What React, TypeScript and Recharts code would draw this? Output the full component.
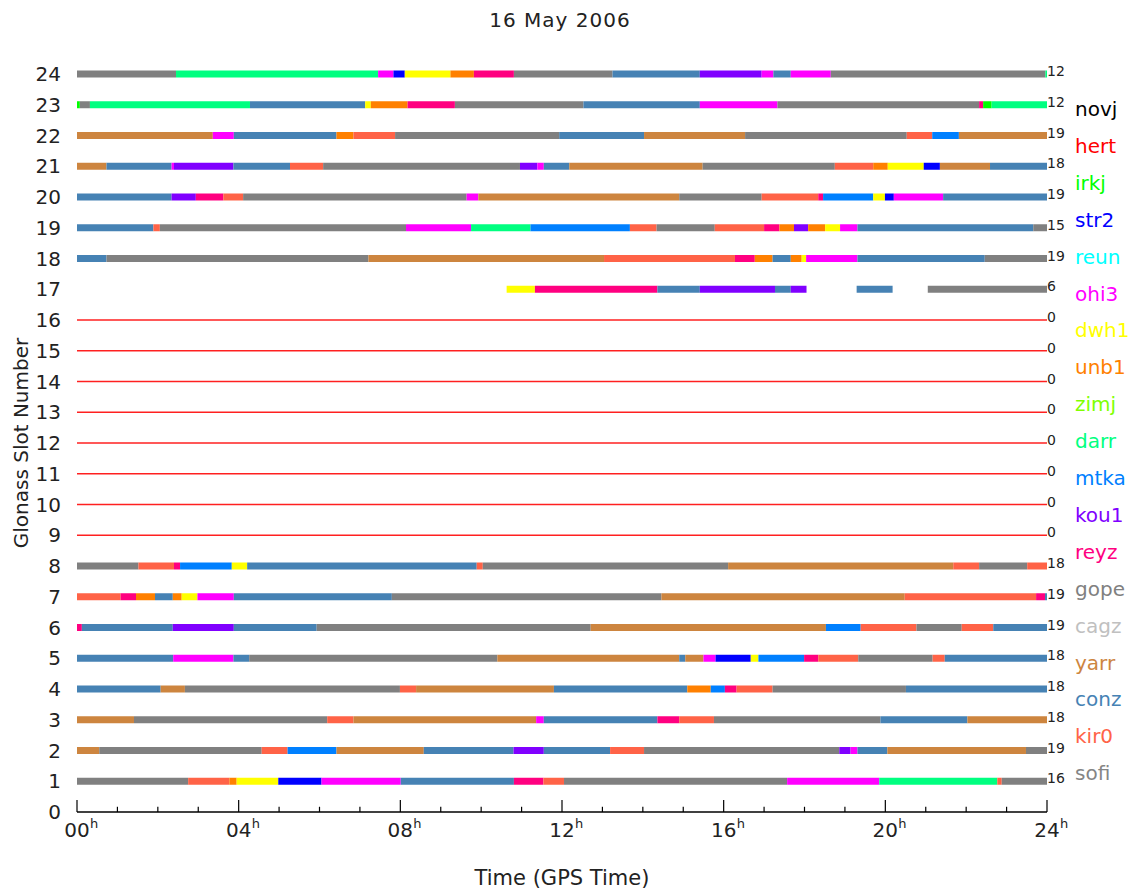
import React from 'react';
import { ComposedChart, XAxis, YAxis, ReferenceLine, ReferenceDot } from 'recharts';

type Seg = [number, number, string];

const FONT = '"DejaVu Sans", "Liberation Sans", sans-serif';

const chartTitle = '16 May 2006';
const xTitle = 'Time (GPS Time)';
const yTitle = 'Glonass Slot Number';

const stations = ['novj', 'hert', 'irkj', 'str2', 'reun', 'ohi3', 'dwh1', 'unb1', 'zimj', 'darr', 'mtka', 'kou1', 'reyz', 'gope', 'cagz', 'yarr', 'conz', 'kir0', 'sofi'];
const stationColors = ['#000000', '#ff0000', '#00ff00', '#0000ff', '#00ffff', '#ff00ff', '#ffff00', '#ff8000', '#80ff00', '#00ff80', '#0080ff', '#8000ff', '#ff0080', '#808080', '#c0c0c0', '#cd853f', '#4682b4', '#ff6347', '#858585'];

const slotTicks = Array.from({ length: 25 }, (_, i) => i);
const hourTicks = [0, 4, 8, 12, 16, 20, 24];
const hourTickLabels = ['00', '04', '08', '12', '16', '20', '24'];
const allHours = Array.from({ length: 25 }, (_, i) => i);

const emptySlots = [9, 10, 11, 12, 13, 14, 15, 16];

const slot24: Seg[] = [[0, 2.45, 'gope'], [2.45, 7.45, 'darr'], [7.45, 7.83, 'ohi3'], [7.83, 8.11, 'str2'], [8.11, 9.24, 'dwh1'], [9.24, 9.82, 'unb1'], [9.82, 10.81, 'reyz'], [10.81, 13.25, 'gope'], [13.25, 15.41, 'conz'], [15.41, 16.94, 'kou1'], [16.94, 17.23, 'ohi3'], [17.23, 17.66, 'conz'], [17.66, 18.65, 'ohi3'], [18.65, 23.96, 'gope'], [23.96, 24, 'darr']];
const slot23: Seg[] = [[0, 0.07, 'irkj'], [0.07, 0.32, 'gope'], [0.32, 4.28, 'darr'], [4.28, 7.13, 'conz'], [7.13, 7.27, 'dwh1'], [7.27, 8.18, 'unb1'], [8.18, 9.35, 'reyz'], [9.35, 12.53, 'gope'], [12.53, 15.41, 'conz'], [15.41, 17.33, 'ohi3'], [17.33, 22.32, 'gope'], [22.32, 22.42, 'reyz'], [22.42, 22.63, 'irkj'], [22.63, 24, 'darr']];
const slot22: Seg[] = [[0, 3.36, 'yarr'], [3.36, 3.88, 'ohi3'], [3.88, 6.42, 'conz'], [6.42, 6.84, 'unb1'], [6.84, 7.87, 'kir0'], [7.87, 11.93, 'gope'], [11.93, 14.03, 'conz'], [14.03, 16.53, 'yarr'], [16.53, 20.53, 'gope'], [20.53, 21.16, 'kir0'], [21.16, 21.82, 'mtka'], [21.82, 24, 'yarr']];
const slot21: Seg[] = [[0, 0.73, 'yarr'], [0.73, 2.34, 'conz'], [2.34, 2.4, 'ohi3'], [2.4, 3.87, 'kou1'], [3.87, 5.27, 'conz'], [5.27, 6.09, 'kir0'], [6.09, 10.96, 'gope'], [10.96, 11.39, 'kou1'], [11.39, 11.55, 'ohi3'], [11.55, 12.18, 'conz'], [12.18, 15.48, 'yarr'], [15.48, 18.75, 'gope'], [18.75, 19.7, 'kir0'], [19.7, 20.06, 'unb1'], [20.06, 20.95, 'dwh1'], [20.95, 21.35, 'str2'], [21.35, 22.59, 'yarr'], [22.59, 24, 'conz']];
const slot20: Seg[] = [[0, 2.34, 'conz'], [2.34, 2.94, 'kou1'], [2.94, 3.62, 'reyz'], [3.62, 4.11, 'kir0'], [4.11, 9.64, 'gope'], [9.64, 9.93, 'ohi3'], [9.93, 14.9, 'yarr'], [14.9, 16.94, 'gope'], [16.94, 18.34, 'kir0'], [18.34, 18.46, 'reyz'], [18.46, 19.7, 'mtka'], [19.7, 19.99, 'dwh1'], [19.99, 20.21, 'str2'], [20.21, 21.43, 'ohi3'], [21.43, 24, 'conz']];
const slot19: Seg[] = [[0, 1.89, 'conz'], [1.89, 2.05, 'kir0'], [2.05, 8.14, 'gope'], [8.14, 9.75, 'ohi3'], [9.75, 11.22, 'darr'], [11.22, 13.68, 'mtka'], [13.68, 14.34, 'kir0'], [14.34, 15.78, 'gope'], [15.78, 17.0, 'kir0'], [17.0, 17.38, 'reyz'], [17.38, 17.74, 'unb1'], [17.74, 18.09, 'kou1'], [18.09, 18.51, 'unb1'], [18.51, 18.88, 'dwh1'], [18.88, 19.31, 'ohi3'], [19.31, 23.66, 'conz'], [23.66, 24, 'gope']];
const slot18: Seg[] = [[0, 0.73, 'conz'], [0.73, 7.21, 'gope'], [7.21, 13.04, 'yarr'], [13.04, 16.28, 'kir0'], [16.28, 16.77, 'reyz'], [16.77, 17.21, 'unb1'], [17.21, 17.66, 'conz'], [17.66, 17.93, 'unb1'], [17.93, 18.04, 'dwh1'], [18.04, 19.31, 'ohi3'], [19.31, 22.46, 'conz'], [22.46, 24, 'gope']];
const slot17: Seg[] = [[10.63, 11.33, 'dwh1'], [11.33, 14.36, 'reyz'], [14.36, 15.41, 'conz'], [15.41, 17.27, 'kou1'], [17.27, 17.66, 'conz'], [17.66, 18.05, 'kou1'], [19.29, 20.18, 'conz'], [21.05, 24, 'gope']];
const slot8: Seg[] = [[0, 1.52, 'gope'], [1.52, 2.4, 'kir0'], [2.4, 2.55, 'reyz'], [2.55, 3.83, 'mtka'], [3.83, 4.21, 'dwh1'], [4.21, 9.89, 'conz'], [9.89, 10.04, 'kir0'], [10.04, 16.11, 'gope'], [16.11, 21.68, 'yarr'], [21.68, 22.32, 'kir0'], [22.32, 23.51, 'gope'], [23.51, 24, 'kir0']];
const slot7: Seg[] = [[0, 1.08, 'kir0'], [1.08, 1.46, 'reyz'], [1.46, 1.93, 'unb1'], [1.93, 2.37, 'conz'], [2.37, 2.59, 'unb1'], [2.59, 2.98, 'dwh1'], [2.98, 3.88, 'ohi3'], [3.88, 7.79, 'conz'], [7.79, 14.46, 'gope'], [14.46, 20.48, 'yarr'], [20.48, 23.73, 'kir0'], [23.73, 23.95, 'reyz'], [23.95, 24, 'conz']];
const slot6: Seg[] = [[0, 0.12, 'reyz'], [0.12, 2.37, 'conz'], [2.37, 3.88, 'kou1'], [3.88, 5.93, 'conz'], [5.93, 12.71, 'gope'], [12.71, 18.53, 'yarr'], [18.53, 19.39, 'mtka'], [19.39, 20.77, 'kir0'], [20.77, 21.89, 'gope'], [21.89, 22.67, 'kir0'], [22.67, 24, 'conz']];
const slot5: Seg[] = [[0, 2.38, 'conz'], [2.38, 3.87, 'ohi3'], [3.87, 4.26, 'conz'], [4.26, 10.4, 'gope'], [10.4, 14.9, 'yarr'], [14.9, 15.05, 'conz'], [15.05, 15.5, 'yarr'], [15.5, 15.8, 'ohi3'], [15.8, 16.67, 'str2'], [16.67, 16.86, 'dwh1'], [16.86, 17.99, 'mtka'], [17.99, 18.34, 'reyz'], [18.34, 19.33, 'kir0'], [19.33, 21.17, 'gope'], [21.17, 21.47, 'kir0'], [21.47, 24, 'conz']];
const slot4: Seg[] = [[0, 2.07, 'conz'], [2.07, 2.67, 'yarr'], [2.67, 7.99, 'gope'], [7.99, 8.39, 'kir0'], [8.39, 11.8, 'yarr'], [11.8, 15.1, 'conz'], [15.1, 15.68, 'unb1'], [15.68, 16.03, 'mtka'], [16.03, 16.32, 'reyz'], [16.32, 17.21, 'kir0'], [17.21, 20.51, 'gope'], [20.51, 24, 'conz']];
const slot3: Seg[] = [[0, 1.41, 'yarr'], [1.41, 6.19, 'gope'], [6.19, 6.84, 'kir0'], [6.84, 11.36, 'yarr'], [11.36, 11.55, 'ohi3'], [11.55, 14.36, 'conz'], [14.36, 14.9, 'reyz'], [14.9, 15.76, 'kir0'], [15.76, 19.88, 'gope'], [19.88, 22.03, 'conz'], [22.03, 24, 'yarr']];
const slot2: Seg[] = [[0, 0.55, 'yarr'], [0.55, 4.57, 'gope'], [4.57, 5.21, 'kir0'], [5.21, 6.42, 'mtka'], [6.42, 8.58, 'yarr'], [8.58, 10.8, 'conz'], [10.8, 11.55, 'kou1'], [11.55, 13.19, 'conz'], [13.19, 14.03, 'kir0'], [14.03, 18.86, 'gope'], [18.86, 19.14, 'kou1'], [19.14, 19.31, 'ohi3'], [19.31, 20.05, 'conz'], [20.05, 23.48, 'yarr'], [23.48, 24, 'gope']];
const slot1: Seg[] = [[0, 2.75, 'gope'], [2.75, 3.77, 'kir0'], [3.77, 3.95, 'unb1'], [3.95, 4.98, 'dwh1'], [4.98, 6.05, 'str2'], [6.05, 8.01, 'ohi3'], [8.01, 10.81, 'conz'], [10.81, 11.54, 'reyz'], [11.54, 12.05, 'kir0'], [12.05, 17.57, 'gope'], [17.57, 19.85, 'ohi3'], [19.85, 22.77, 'darr'], [22.77, 22.88, 'kir0'], [22.88, 24, 'gope']];

const countSlots = [24, 23, 22, 21, 20, 19, 18, 17, 16, 15, 14, 13, 12, 11, 10, 9, 8, 7, 6, 5, 4, 3, 2, 1];
const countValues = [12, 12, 19, 18, 19, 15, 19, 6, 0, 0, 0, 0, 0, 0, 0, 0, 18, 19, 19, 18, 18, 18, 19, 16];

const tracks: { slot: number; segs: Seg[] }[] = [
  { slot: 24, segs: slot24 }, { slot: 23, segs: slot23 }, { slot: 22, segs: slot22 },
  { slot: 21, segs: slot21 }, { slot: 20, segs: slot20 }, { slot: 19, segs: slot19 },
  { slot: 18, segs: slot18 }, { slot: 17, segs: slot17 }, { slot: 8, segs: slot8 },
  { slot: 7, segs: slot7 }, { slot: 6, segs: slot6 }, { slot: 5, segs: slot5 },
  { slot: 4, segs: slot4 }, { slot: 3, segs: slot3 }, { slot: 2, segs: slot2 },
  { slot: 1, segs: slot1 },
];

const colorOf = (s: string) => stationColors[stations.indexOf(s)];

const HourTick = (props: any) => {
  const { x, y, payload } = props;
  const idx = hourTicks.indexOf(payload.value);
  const label = idx >= 0 ? hourTickLabels[idx] : '';
  return (
    <g>
      <text x={x} y={y + 17} textAnchor="middle" fontSize={20} fill="#222" fontFamily={FONT}>{label}</text>
      <text x={x + 13} y={y + 8} textAnchor="start" fontSize={13} fill="#222" fontFamily={FONT}>h</text>
    </g>
  );
};

export default function App() {
  return (
    <div style={{ position: 'absolute', left: 0, top: 0, width: 1133, height: 891, background: '#fff', fontFamily: FONT }}>
      <ComposedChart width={1133} height={891} margin={{ top: 74, right: 86, bottom: 29, left: 17 }} data={[{ x: 0, y: 0 }, { x: 24, y: 24 }]}>
        <XAxis type="number" dataKey="x" domain={[0, 24]} ticks={hourTicks} interval={0} height={50}
          tick={HourTick} tickLine={false} axisLine={{ stroke: '#000', strokeWidth: 1.5 }} allowDataOverflow />
        <YAxis type="number" dataKey="y" domain={[0, 24]} ticks={slotTicks} interval={0} width={60}
          tickLine={false} axisLine={false} tick={{ fill: '#222', fontSize: 20, fontFamily: FONT }} tickMargin={10} allowDataOverflow />
        {emptySlots.map((s) => (
          <ReferenceLine key={'e' + s} segment={[{ x: 0, y: s }, { x: 24, y: s }]} stroke="#ff2020" strokeWidth={1.5} ifOverflow="visible" />
        ))}
        {tracks.flatMap((t) =>
          t.segs.map((g, i) => (
            <ReferenceLine key={'s' + t.slot + '_' + i} segment={[{ x: g[0], y: t.slot }, { x: g[1], y: t.slot }]}
              stroke={colorOf(g[2])} strokeWidth={7} strokeLinecap="butt" ifOverflow="visible" />
          ))
        )}
        {allHours.map((h) => (
          <ReferenceLine key={'t' + h} segment={[{ x: h, y: 0 }, { x: h, y: h % 4 === 0 ? 0.39 : 0.17 }]}
            stroke="#000" strokeWidth={1.2} ifOverflow="visible" />
        ))}
        {countSlots.map((s, i) => (
          <ReferenceDot key={'c' + s} x={24} y={s} r={0} ifOverflow="visible"
            shape={(p: any) => (
              <text x={p.cx} y={p.cy + 2} fontSize={14} fill="#222" fontFamily={FONT}>{String(countValues[i])}</text>
            )} />
        ))}
      </ComposedChart>
      <svg width={1133} height={891} style={{ position: 'absolute', left: 0, top: 0, pointerEvents: 'none' }}>
        <text x={560} y={27} textAnchor="middle" fontSize={20} fill="#222" fontFamily={FONT} letterSpacing={1}>{chartTitle}</text>
        <text x={562} y={885} textAnchor="middle" fontSize={21} fill="#222" fontFamily={FONT}>{xTitle}</text>
        <text x={28} y={443} textAnchor="middle" fontSize={20} fill="#222" fontFamily={FONT} transform="rotate(-90 28 443)">{yTitle}</text>
        {stations.map((s, i) => (
          <text key={s} x={1075} y={116 + i * 36.9} fontSize={20} fill={stationColors[i]} fontFamily={FONT}>{s}</text>
        ))}
      </svg>
    </div>
  );
}
